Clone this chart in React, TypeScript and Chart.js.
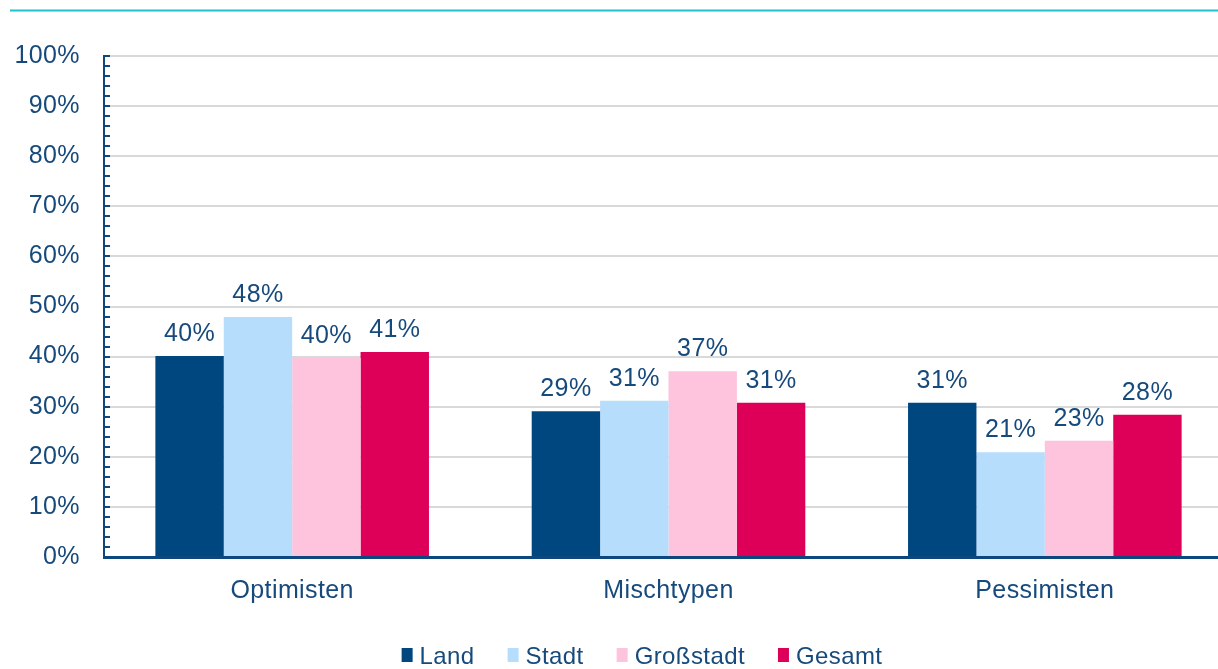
import React, { useEffect, useRef } from "react";
import { Chart, registerables } from "chart.js";

Chart.register(...registerables);

const categories = ["Optimisten", "Mischtypen", "Pessimisten"];
const seriesNames = ["Land", "Stadt", "Großstadt", "Gesamt"];
const landValues = [40.1, 29.1, 30.8];
const stadtValues = [47.9, 31.2, 20.9];
const grossstadtValues = [39.7, 37.1, 23.2];
const gesamtValues = [40.9, 30.8, 28.4];
const seriesColors = ["#00467F", "#B7DDFC", "#FEC4DD", "#DE0058"];
const yMin = 0;
const yMax = 100;
const yStep = 10;
const yMinorStep = 2;

const FONT = "'Liberation Sans', Arial, sans-serif";
const TEXT = "#174A7C";
const AXIS = "#0E477E";
const SPACING = "0.4px";
const FS = 25;

const setSpacing = (chart: any) => {
  try {
    (chart.ctx as any).letterSpacing = SPACING;
  } catch (e) {}
};

const decorPlugin = {
  id: "decor",
  beforeUpdate(chart: any) {
    setSpacing(chart);
  },
  beforeLayout(chart: any) {
    setSpacing(chart);
  },
  beforeDraw(chart: any) {
    setSpacing(chart);
    const ctx = chart.ctx;
    ctx.save();
    ctx.fillStyle = "#ffffff";
    ctx.fillRect(0, 0, chart.width, chart.height);
    ctx.strokeStyle = "#1FC2CA";
    ctx.lineWidth = 2;
    ctx.beginPath();
    ctx.moveTo(10, 10.5);
    ctx.lineTo(chart.width, 10.5);
    ctx.stroke();
    ctx.restore();
  },
  afterDatasetsDraw(chart: any) {
    const ctx = chart.ctx;
    ctx.save();
    ctx.letterSpacing = SPACING;
    ctx.font = `${FS}px ${FONT}`;
    ctx.fillStyle = TEXT;
    ctx.textAlign = "center";
    ctx.textBaseline = "alphabetic";
    chart.data.datasets.forEach((ds: any, di: number) => {
      const meta = chart.getDatasetMeta(di);
      meta.data.forEach((el: any, i: number) => {
        const v = ds.data[i];
        ctx.fillText(`${Math.round(v)}%`, el.x, el.y - 15);
      });
    });
    ctx.restore();
  },
  afterDraw(chart: any) {
    const ctx = chart.ctx;
    const y = chart.scales.y;
    const area = chart.chartArea;
    ctx.save();
    // minor ticks
    ctx.strokeStyle = AXIS;
    ctx.lineWidth = 2;
    ctx.beginPath();
    for (let v = yMin; v <= yMax; v += yMinorStep) {
      const py = Math.round(y.getPixelForValue(v));
      ctx.moveTo(area.left, py);
      ctx.lineTo(area.left + 6, py);
    }
    ctx.stroke();

    // legend
    ctx.letterSpacing = SPACING;
    ctx.font = `24px ${FONT}`;
    ctx.textBaseline = "middle";
    ctx.textAlign = "left";
    const boxW = 11;
    const boxH = 14;
    const textGap = 18;
    const itemGap = 33;
    const widths = seriesNames.map((n) => ctx.measureText(n).width);
    const total =
      widths.reduce((a, w) => a + textGap + w, 0) + itemGap * (seriesNames.length - 1);
    let x = 642 - total / 2;
    const cy = 656;
    seriesNames.forEach((n, i) => {
      ctx.fillStyle = seriesColors[i];
      ctx.fillRect(x, cy - boxH / 2 - 1, boxW, boxH);
      ctx.fillStyle = TEXT;
      ctx.fillText(n, x + textGap, cy + 1);
      x += textGap + widths[i] + itemGap;
    });
    ctx.restore();
  },
};

export default function App() {
  const ref = useRef<HTMLCanvasElement | null>(null);

  useEffect(() => {
    document.body.style.margin = "0";
    const canvas = ref.current;
    if (!canvas) return;
    const chart = new Chart(canvas, {
      type: "bar",
      data: {
        labels: categories,
        datasets: [
          { label: seriesNames[0], data: landValues, backgroundColor: seriesColors[0] },
          { label: seriesNames[1], data: stadtValues, backgroundColor: seriesColors[1] },
          { label: seriesNames[2], data: grossstadtValues, backgroundColor: seriesColors[2] },
          { label: seriesNames[3], data: gesamtValues, backgroundColor: seriesColors[3] },
        ],
      },
      options: {
        responsive: false,
        animation: false,
        devicePixelRatio: 1,
        layout: { padding: { top: 56, left: 0, right: 0, bottom: 0 } },
        datasets: {
          bar: { categoryPercentage: 0.727, barPercentage: 1.0, borderWidth: 0 },
        },
        plugins: {
          legend: { display: false },
          tooltip: { enabled: false },
        },
        scales: {
          x: {
            grid: { display: false, drawTicks: false },
            border: { display: true, color: AXIS, width: 3 },
            ticks: {
              color: TEXT,
              font: { family: FONT, size: FS },
              padding: 19,
            },
            afterFit(scale: any) {
              scale.height = 112;
            },
          },
          y: {
            min: yMin,
            max: yMax,
            grid: { color: "#D9D9D9", lineWidth: 2, drawTicks: false },
            border: { display: true, color: AXIS, width: 2 },
            ticks: {
              stepSize: yStep,
              color: TEXT,
              font: { family: FONT, size: FS },
              padding: 24,
              callback: (v: any) => `${v}%`,
            },
            afterFit(scale: any) {
              scale.width = 104;
            },
          },
        },
      },
      plugins: [decorPlugin],
    });
    return () => chart.destroy();
  }, []);

  return (
    <div
      style={{
        position: "fixed",
        left: 0,
        top: 0,
        width: 1218,
        height: 669,
        overflow: "hidden",
        background: "#fff",
      }}
    >
      <canvas ref={ref} width={1233} height={669} style={{ display: "block" }} />
    </div>
  );
}
